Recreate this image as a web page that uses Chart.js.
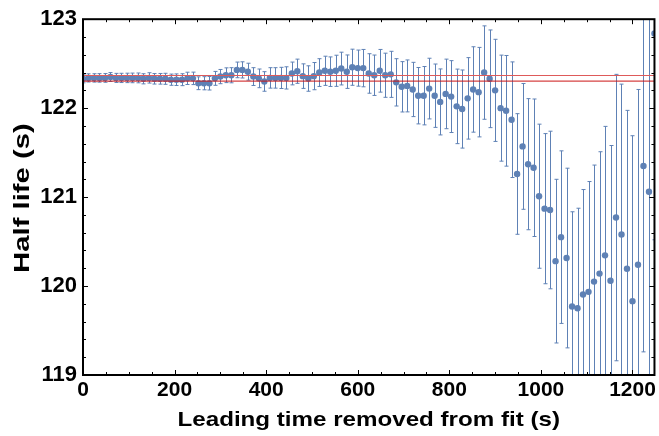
<!DOCTYPE html>
<html>
<head>
<meta charset="utf-8">
<script src="https://cdn.jsdelivr.net/npm/chart.js@4.4.1/dist/chart.umd.min.js"></script>
<style>
  html, body { margin: 0; padding: 0; background: #fff; }
  #wrap { width: 659px; height: 436px; }
</style>
</head>
<body>
<div id="wrap"><canvas id="chart" width="659" height="436"></canvas></div>
<script>
// leading time removed (s)
const times = [
  0, 12, 24, 36, 48, 60, 72, 84, 96, 108, 120, 132, 144, 156, 168, 180, 192, 204, 216, 228,
  240, 252, 264, 276, 288, 300, 312, 324, 336, 348, 360, 372, 384, 396, 408, 420, 432, 444, 456, 468,
  480, 492, 504, 516, 528, 540, 552, 564, 576, 588, 600, 612, 624, 636, 648, 660, 672, 684, 696, 708,
  720, 732, 744, 756, 768, 780, 792, 804, 816, 828, 840, 852, 864, 876, 888, 900, 912, 924, 936, 948,
  960, 972, 984, 996, 1008, 1020, 1032, 1044, 1056, 1068, 1080, 1092, 1104, 1116, 1128, 1140, 1152, 1164, 1176, 1188,
  1200, 1212, 1224, 1236, 1248
];
// fitted half life (s)
const halfLife = [
  122.33, 122.34, 122.34, 122.34, 122.34, 122.35, 122.34, 122.34, 122.34, 122.34,
  122.34, 122.33, 122.34, 122.33, 122.33, 122.33, 122.32, 122.32, 122.32, 122.335,
  122.335, 122.28, 122.28, 122.28, 122.335, 122.355, 122.37, 122.37, 122.43, 122.43,
  122.41, 122.355, 122.335, 122.30, 122.34, 122.34, 122.34, 122.34, 122.39, 122.415,
  122.36, 122.333, 122.36, 122.40, 122.42, 122.41, 122.42, 122.445, 122.41, 122.46,
  122.45, 122.45, 122.39, 122.37, 122.42, 122.37, 122.38, 122.29, 122.24, 122.25,
  122.21, 122.14, 122.14, 122.22, 122.14, 122.07, 122.16, 122.13, 122.02, 121.99,
  122.11, 122.21, 122.18, 122.40, 122.33, 122.20, 122.00, 121.97, 121.87, 121.26,
  121.57, 121.37, 121.33, 121.01, 120.87, 120.855, 120.28, 120.55, 120.315, 119.77,
  119.75, 119.905, 119.935, 120.05, 120.14, 120.345, 120.06, 120.77, 120.58, 120.195,
  119.83, 120.24, 121.35, 121.06, 122.84
];
// one-sigma uncertainty (s)
const halfLifeErr = [
  0.045, 0.046, 0.047, 0.048, 0.049, 0.05, 0.051, 0.052, 0.053, 0.054,
  0.055, 0.057, 0.058, 0.059, 0.06, 0.062, 0.063, 0.065, 0.067, 0.069,
  0.07, 0.072, 0.074, 0.076, 0.078, 0.08, 0.083, 0.085, 0.088, 0.091,
  0.095, 0.1, 0.105, 0.11, 0.115, 0.115, 0.119, 0.125, 0.128, 0.136,
  0.138, 0.143, 0.153, 0.156, 0.164, 0.166, 0.175, 0.184, 0.188, 0.203,
  0.203, 0.21, 0.222, 0.227, 0.24, 0.248, 0.259, 0.266, 0.283, 0.292,
  0.305, 0.317, 0.328, 0.341, 0.356, 0.371, 0.391, 0.404, 0.419, 0.439,
  0.458, 0.48, 0.503, 0.525, 0.549, 0.574, 0.596, 0.622, 0.65, 0.678,
  0.707, 0.737, 0.773, 0.81, 0.844, 0.886, 0.92, 0.97, 1.01, 1.065,
  1.125, 1.18, 1.24, 1.31, 1.37, 1.45, 1.52, 1.61, 1.69, 1.78,
  1.86, 1.97, 2.09, 2.2, 2.32
];
// reference band (upper / lower)
const bandUpper = 122.367;
const bandLower = 122.304;

const xTicks = [0, 200, 400, 600, 800, 1000, 1200];
const yTicks = [119, 120, 121, 122, 123];
const xRange = [0, 1248];
const yRange = [119, 123];
const xTitle = "Leading time removed from fit (s)";
const yTitle = "Half life (s)";

const pointColor = "rgb(94,129,181)";
const fontFamily = "'Liberation Sans', Arial, sans-serif";

const errorBars = {
    id: "errorBars",
    beforeDatasetsDraw(chart) {
        const { ctx, chartArea: a, scales: { x, y } } = chart;
        ctx.save();
        ctx.beginPath();
        ctx.rect(a.left, a.top, a.right - a.left, a.bottom - a.top);
        ctx.clip();
        ctx.strokeStyle = pointColor;
        ctx.lineWidth = 1;
        times.forEach((t, i) => {
            const px = Math.round(x.getPixelForValue(t)) + 0.5;
            const top = y.getPixelForValue(halfLife[i] + halfLifeErr[i]);
            const bot = y.getPixelForValue(halfLife[i] - halfLifeErr[i]);
            ctx.beginPath();
            ctx.moveTo(px, top); ctx.lineTo(px, bot);
            ctx.moveTo(px - 2, top); ctx.lineTo(px + 2, top);
            ctx.moveTo(px - 2, bot); ctx.lineTo(px + 2, bot);
            ctx.stroke();
        });
        ctx.restore();
    }
};

const frame = {
    id: "frame",
    afterDraw(chart) {
        const { ctx, chartArea: a, scales: { x, y } } = chart;
        ctx.save();
        ctx.strokeStyle = "#000";
        ctx.lineWidth = 1;
        ctx.beginPath();
        for (let v = xRange[0]; v <= xRange[1]; v += 50) {
            const len = xTicks.includes(v) ? 5 : 3;
            const px = Math.round(x.getPixelForValue(v)) + 0.5;
            ctx.moveTo(px, a.bottom); ctx.lineTo(px, a.bottom - len);
            ctx.moveTo(px, a.top); ctx.lineTo(px, a.top + len);
        }
        for (let k = 0; k <= 20; k++) {
            const v = yRange[0] + k * 0.2;
            const len = k % 5 === 0 ? 5 : 3;
            const py = Math.round(y.getPixelForValue(v)) + 0.5;
            ctx.moveTo(a.left, py); ctx.lineTo(a.left + len, py);
            ctx.moveTo(a.right, py); ctx.lineTo(a.right - len, py);
        }
        ctx.stroke();
        ctx.lineWidth = 2;
        ctx.strokeRect(a.left, a.top, a.right - a.left, a.bottom - a.top);

        // axis titles, slightly stretched along the text like the original export
        ctx.fillStyle = "#000";
        ctx.textAlign = "center";
        ctx.textBaseline = "alphabetic";
        ctx.save();
        ctx.font = "bold 21px " + fontFamily;
        ctx.translate((a.left + a.right) / 2, 426);
        ctx.scale(1.15, 1);
        ctx.fillText(xTitle, 0, 0);
        ctx.restore();
        ctx.save();
        ctx.font = "bold 22px " + fontFamily;
        ctx.translate(29, (a.top + a.bottom) / 2 + 1);
        ctx.rotate(-Math.PI / 2);
        ctx.scale(1.33, 1);
        ctx.fillText(yTitle, 0, 0);
        ctx.restore();
        ctx.restore();
    }
};

const flat = v => [{ x: xRange[0], y: v }, { x: xRange[1], y: v }];

new Chart(document.getElementById("chart"), {
    type: "scatter",
    data: {
        datasets: [
            { type: "line", data: flat(bandUpper), borderColor: "rgb(222,90,90)", borderWidth: 1, pointRadius: 0, clip: 0 },
            { type: "line", data: flat(bandLower), borderColor: "rgb(204,20,20)", borderWidth: 1, pointRadius: 0, clip: 0 },
            {
                data: times.map((t, i) => ({ x: t, y: halfLife[i] })),
                backgroundColor: pointColor,
                borderWidth: 0,
                pointRadius: 3.2,
                clip: 0
            }
        ]
    },
    options: {
        responsive: false,
        animation: false,
        layout: { padding: { top: 17, right: 3, left: 0, bottom: 0 } },
        plugins: { legend: { display: false }, tooltip: { enabled: false } },
        scales: {
            x: {
                type: "linear",
                min: xRange[0],
                max: xRange[1],
                afterFit: s => { s.height = 61; },
                afterBuildTicks: s => { s.ticks = xTicks.map(v => ({ value: v })); },
                grid: { display: false, drawTicks: false },
                border: { display: false },
                ticks: {
                    color: "#000",
                    font: { family: fontFamily, size: 21, weight: "bold" },
                    padding: 3,
                    maxRotation: 0,
                    callback: v => String(v)
                },
                title: { display: false }
            },
            y: {
                min: yRange[0],
                max: yRange[1],
                afterFit: s => { s.width = 83; },
                afterBuildTicks: s => { s.ticks = yTicks.map(v => ({ value: v })); },
                grid: { display: false, drawTicks: false },
                border: { display: false },
                ticks: {
                    color: "#000",
                    font: { family: fontFamily, size: 22, weight: "bold" },
                    padding: 6,
                    callback: v => String(v)
                },
                title: { display: false }
            }
        }
    },
    plugins: [errorBars, frame]
});
</script>
</body>
</html>
